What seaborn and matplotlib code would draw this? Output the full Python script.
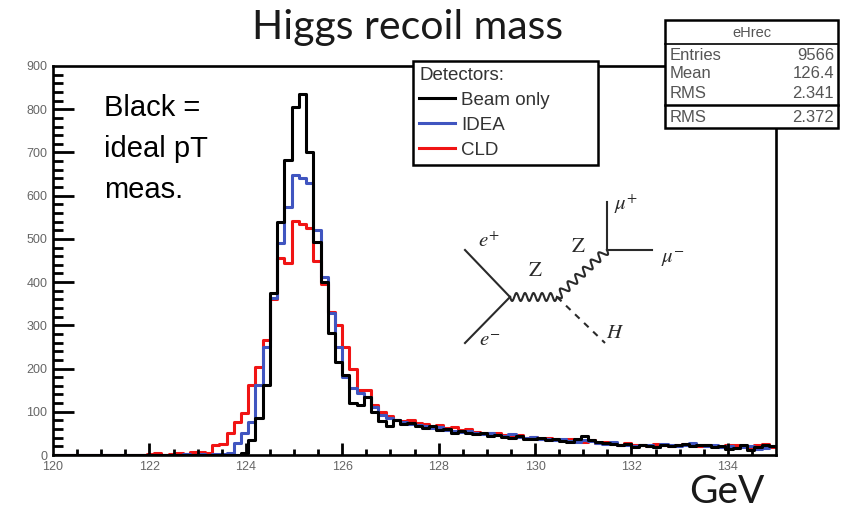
import numpy as np
import pandas as pd
import matplotlib.pyplot as plt
import seaborn as sns
from matplotlib.lines import Line2D
from matplotlib.patches import Rectangle
from matplotlib.ticker import MultipleLocator

# Binning of the recoil-mass histogram (GeV): 100 bins from 120 to 135
n_bins = 100
mass_range = (120.0, 135.0)
bin_width = (mass_range[1] - mass_range[0]) / n_bins
bin_centers = mass_range[0] + bin_width * (np.arange(n_bins) + 0.5)

# Counts per bin
beam_only = [
    0, 0, 0, 0, 0, 0, 0, 0, 0, 0,
    0, 0, 0, 0, 0, 0, 0, 0, 0, 0,
    0, 0, 0, 0, 0, 1, 5, 35, 85, 162,
    375, 540, 683, 806, 836, 701, 493, 400, 282, 215,
    185, 120, 116, 135, 100, 78, 66, 80, 72, 74,
    68, 62, 66, 58, 60, 52, 55, 50, 48, 52,
    44, 46, 42, 40, 44, 38, 36, 40, 34, 36,
    33, 30, 36, 44, 34, 30, 28, 26, 22, 25,
    18, 24, 20, 18, 22, 20, 24, 26, 20, 22,
    24, 18, 20, 14, 16, 22, 12, 18, 22, 20,
]
idea = [
    0, 0, 0, 0, 0, 0, 0, 0, 0, 0,
    0, 0, 0, 0, 0, 0, 0, 0, 2, 0,
    2, 0, 3, 2, 5, 28, 51, 77, 162, 250,
    363, 490, 574, 648, 641, 630, 520, 412, 328, 250,
    181, 155, 143, 135, 111, 93, 85, 80, 76, 72,
    70, 66, 62, 64, 58, 56, 54, 56, 50, 48,
    50, 46, 44, 48, 42, 40, 42, 38, 36, 34,
    36, 32, 30, 34, 32, 28, 26, 30, 24, 22,
    20, 24, 22, 18, 26, 24, 20, 22, 28, 24,
    20, 22, 18, 20, 16, 18, 20, 14, 16, 20,
]
cld = [
    0, 0, 0, 0, 0, 0, 0, 0, 0, 0,
    0, 0, 0, 3, 4, 0, 3, 5, 3, 6,
    8, 5, 22, 25, 51, 77, 97, 162, 204, 266,
    360, 456, 444, 542, 535, 525, 450, 395, 330, 300,
    250, 200, 150, 150, 115, 100, 90, 82, 78, 80,
    74, 72, 68, 70, 62, 64, 58, 60, 54, 52,
    50, 52, 46, 44, 46, 40, 42, 38, 40, 36,
    34, 38, 32, 30, 34, 28, 30, 26, 24, 28,
    22, 24, 20, 26, 22, 20, 24, 26, 22, 20,
    24, 20, 18, 22, 24, 20, 16, 22, 26, 18,
]

series_labels = ['Beam only', 'IDEA', 'CLD']
series_colors = ['#000000', '#4055c0', '#f01414']

x_ticks = [120, 122, 124, 126, 128, 130, 132, 134]
y_ticks = [0, 100, 200, 300, 400, 500, 600, 700, 800, 900]

note_lines = ['Black =', 'ideal pT', 'meas.']

stats_rows = [('Entries', '9566'), ('Mean', '126.4'), ('RMS', '2.341')]
stats_extra = ('RMS', '2.372')

plt.rcParams.update({
    'font.family': ['Liberation Sans', 'DejaVu Sans'],
    'mathtext.fontset': 'stix',
    'xtick.labelcolor': '#666666', 'ytick.labelcolor': '#666666',
    'xtick.labelsize': 9, 'ytick.labelsize': 9,
})

W, H = 851, 515
fig = plt.figure(figsize=(W / 100, H / 100), dpi=100, facecolor='white')


def fx(px):
    return np.asarray(px) / W


def fy(py):
    return 1 - np.asarray(py) / H


ax_l, ax_r, ax_t, ax_b = 53, 776, 66, 455
ax = fig.add_axes([fx(ax_l), fy(ax_b), fx(ax_r) - fx(ax_l), fy(ax_t) - fy(ax_b)])
ax.set_facecolor('white')

# histograms: red first, black on top
for vals, col in [(cld, series_colors[2]), (idea, series_colors[1]), (beam_only, series_colors[0])]:
    df = pd.DataFrame({'mass': bin_centers, 'count': vals})
    sns.histplot(data=df, x='mass', weights='count', bins=n_bins, binrange=mass_range,
                 element='step', fill=False, color=col, linewidth=2.2, ax=ax)

ax.set_xlim(*mass_range)
ax.set_ylim(0, 900)
ax.set_xticks(x_ticks)
ax.set_yticks(y_ticks)
ax.xaxis.set_minor_locator(MultipleLocator(0.5))
ax.yaxis.set_minor_locator(MultipleLocator(20))
ax.set_xlabel('')
ax.set_ylabel('')
ax.grid(False)
ax.tick_params(which='both', length=0, pad=4)
for s in ax.spines.values():
    s.set_visible(True)
    s.set_linewidth(1.9)
    s.set_color('black')

# ROOT-style inward tick marks at the locator positions
ax_w_px, ax_h_px = ax_r - ax_l, ax_b - ax_t
xt_major = [t for t in ax.get_xticks() if mass_range[0] < t < mass_range[1]]
xt_minor = [t for t in ax.xaxis.get_minorticklocs() if mass_range[0] < t < mass_range[1]]
yt_major = [t for t in ax.get_yticks() if 0 < t < 900]
yt_minor = [t for t in ax.yaxis.get_minorticklocs() if 0 < t < 900]
tick_kw = dict(colors='black', lw=2.0, zorder=4, clip_on=False)
ax.vlines(xt_major, 0, 12 / ax_h_px, transform=ax.get_xaxis_transform(), **tick_kw)
ax.vlines(xt_minor, 0, 6 / ax_h_px, transform=ax.get_xaxis_transform(), **tick_kw)
ax.hlines(yt_major, 0, 21 / ax_w_px, transform=ax.get_yaxis_transform(), **tick_kw)
ax.hlines(yt_minor, 0, 10 / ax_w_px, transform=ax.get_yaxis_transform(), **tick_kw)

# legend
handles = [Line2D([], [], color=c, lw=2.2) for c in series_colors]
leg = ax.legend(handles, series_labels, title='Detectors:', loc='upper left',
                bbox_to_anchor=(0.4986, 1.012, 0.2555, 0.0), mode='expand',
                fontsize=13.5, title_fontsize=13.5, frameon=True, fancybox=False,
                framealpha=1, edgecolor='black', borderpad=0.3, labelspacing=0.42,
                handlelength=1.9, handletextpad=0.35, borderaxespad=0)
leg._legend_box.align = 'left'
leg.get_frame().set_linewidth(1.8)
leg.set_zorder(10)
for t in leg.get_texts():
    t.set_color('#333333')
leg.get_title().set_color('#333333')

# titles and notes
fig.text(fx(408), fy(39), 'Higgs recoil mass', ha='center', va='baseline',
         fontsize=29.5, family='Lato', color='#1a1a1a')
fig.text(fx(689), fy(503), 'GeV', ha='left', va='baseline',
         fontsize=28, family='Lato', color='#1a1a1a')
for i, line in enumerate(note_lines):
    fig.text(fx(104), fy(108 + 41 * i), line, ha='left', va='center',
             fontsize=21, color='black')

# stats box (ROOT style)
box_l, box_r, box_t, box_b = 665, 838, 20, 128
fig.add_artist(Rectangle((fx(box_l), fy(box_b)), fx(box_r) - fx(box_l), fy(box_t) - fy(box_b),
                         transform=fig.transFigure, facecolor='white', edgecolor='black',
                         linewidth=1.8, zorder=5))
fig.add_artist(Line2D([fx(box_l), fx(box_r)], [fy(44), fy(44)], transform=fig.transFigure,
                      color='black', lw=1.2, zorder=6))
fig.add_artist(Line2D([fx(box_l), fx(box_r)], [fy(105), fy(105)], transform=fig.transFigure,
                      color='black', lw=1.8, zorder=6))
fig.text(fx((box_l + box_r) / 2), fy(33), 'eHrec', ha='center', va='center',
         fontsize=10.5, color='#555555', zorder=7)
stat_fs = 12
for i, (name, val) in enumerate(stats_rows):
    yy = fy(55 + 19 * i)
    fig.text(fx(670), yy, name, ha='left', va='center', fontsize=stat_fs, color='#555555', zorder=7)
    fig.text(fx(834), yy, val, ha='right', va='center', fontsize=stat_fs, color='#555555', zorder=7)
fig.text(fx(670), fy(117), stats_extra[0], ha='left', va='center', fontsize=stat_fs, color='#555555', zorder=7)
fig.text(fx(834), fy(117), stats_extra[1], ha='right', va='center', fontsize=stat_fs, color='#555555', zorder=7)

# Feynman diagram e+e- -> ZH, Z -> mu mu
dcol = '#2a2a2a'


def seg(p0, p1, **kw):
    fig.add_artist(Line2D([fx(p0[0]), fx(p1[0])], [fy(p0[1]), fy(p1[1])],
                          transform=fig.transFigure, color=dcol, lw=1.5, **kw))


def wavy(p0, p1, n_waves, amp=4):
    p0 = np.array(p0, float)
    p1 = np.array(p1, float)
    d = p1 - p0
    length = np.hypot(*d)
    u = d / length
    nrm = np.array([-u[1], u[0]])
    t = np.linspace(0, 1, 300)
    pts = p0[None, :] + t[:, None] * d[None, :] + amp * np.sin(2 * np.pi * n_waves * t)[:, None] * nrm[None, :]
    fig.add_artist(Line2D(fx(pts[:, 0]), fy(pts[:, 1]), transform=fig.transFigure,
                          color=dcol, lw=1.5))


v1 = (510, 297)
v2 = (557, 297)
v3 = (607, 250)
seg((465, 250), v1)
seg(v1, (465, 343))
wavy(v1, v2, 5.5)
wavy(v2, v3, 6.5)
seg(v2, (605, 343), linestyle=(0, (3, 3)))
seg(v3, (607, 202))
seg(v3, (652, 250))

lab_kw = dict(ha='center', va='center', fontsize=15, color=dcol)
fig.text(fx(489), fy(241), r'$e^{+}$', **lab_kw)
fig.text(fx(490), fy(340), r'$e^{-}$', **lab_kw)
fig.text(fx(535), fy(270), r'$\mathrm{Z}$', **lab_kw)
fig.text(fx(578), fy(247), r'$\mathrm{Z}$', **lab_kw)
fig.text(fx(626), fy(204), r'$\mu^{+}$', **lab_kw)
fig.text(fx(673), fy(259), r'$\mu^{-}$', **lab_kw)
fig.text(fx(615), fy(333), r'$H$', **lab_kw)

fig.savefig('out.png', dpi=100)
